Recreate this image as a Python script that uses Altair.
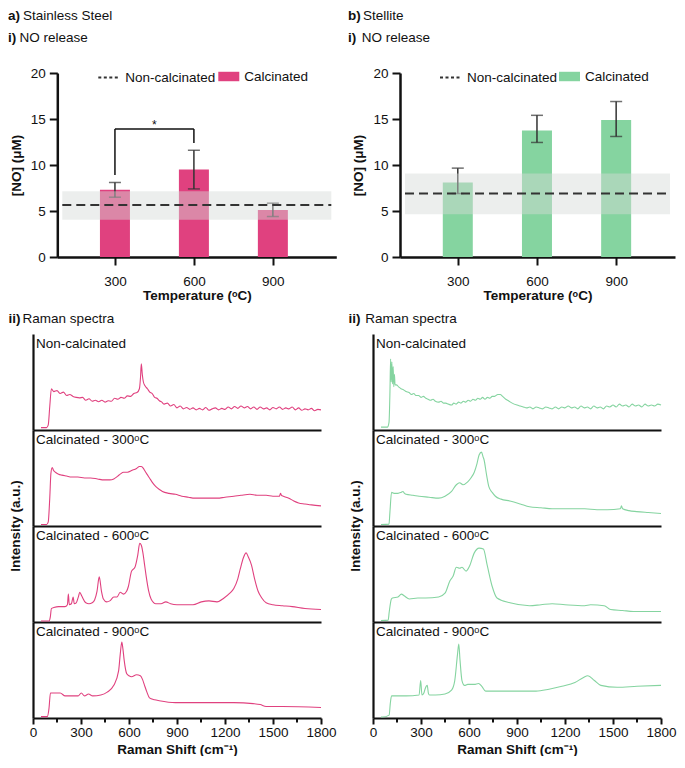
import altair as alt
import pandas as pd

FONT = "Liberation Sans"
PINK = "#E0417F"
GREEN = "#85D4A0"
FS = 13.5

# ---------------- NO release data ----------------
temps = [300, 600, 900]
ss_mean = [7.3, 9.5, 5.1]
ss_lo = [6.5, 7.4, 4.4]
ss_hi = [8.1, 11.6, 5.85]
ss_ctrl = [5.65]
ss_ctrl_lo = [4.05]
ss_ctrl_hi = [7.15]

st_mean = [8.1, 13.75, 14.9]
st_lo = [6.9, 12.45, 13.1]
st_hi = [9.66, 15.4, 16.9]
st_ctrl = [6.9]
st_ctrl_lo = [4.66]
st_ctrl_hi = [9.07]

legend_bar = "Calcinated"
legend_line = "Non-calcinated"

# significance bracket (stainless steel, 300 vs 600)
sig_x = [300, 600]
sig_top = [13.9]
sig_leg_bottom = [8.9, 12.4]
sig_star_x = [450]
sig_star_y = [14.4]

# ---------------- Raman spectra data ----------------
ss_nc_x = [50, 85, 95, 105, 115, 130, 150, 170, 190, 210, 230, 250, 270, 290, 310, 330, 350, 370, 390,
           410, 430, 450, 470, 490, 510, 530, 550, 570, 590, 610, 630, 650, 665, 672, 677, 683, 690, 700,
           715, 730, 745, 760, 775, 790, 805, 820, 840, 860, 880, 900, 920, 940, 960, 980, 1000, 1020,
           1040, 1060, 1080, 1100, 1120, 1140, 1160, 1180, 1200, 1220, 1240, 1260, 1280, 1300, 1320,
           1340, 1360, 1380, 1400, 1420, 1440, 1460, 1480, 1500, 1520, 1540, 1560, 1580, 1600, 1620,
           1640, 1660, 1680, 1700, 1720, 1740, 1760, 1780, 1800]
ss_nc_y = [2.5, 2.5, 5, 25, 43, 40, 41, 38, 39.5, 36, 37, 35, 34, 33.5, 34, 31, 32.5, 30, 31,
           29.5, 31, 29, 30.5, 30, 33, 32, 34, 33, 35.5, 35, 38, 39, 43, 55, 69, 58, 50, 46,
           43, 39.5, 38, 34, 33, 30.5, 29, 27, 28, 25, 26.5, 23, 25, 22, 23.5, 21.5, 23, 21,
           22.5, 21, 23.5, 20.5, 22, 23, 21, 22.5, 21.5, 24, 22, 24.5, 22.5, 25, 23,
           24.5, 22, 24, 21.5, 24, 22, 23, 21, 23.5, 22, 24, 21.5, 23, 22, 24,
           21, 23, 20.5, 22, 21, 22.5, 20, 21.5, 21]

ss_300_x = [50, 85, 95, 105, 112, 120, 128, 140, 160, 180, 210, 241, 280, 322, 360, 403, 444, 480, 505,
            530, 545, 566, 590, 620, 647, 665, 677, 690, 697, 712, 728, 748, 768, 790, 809, 850, 890,
            930, 971, 1010, 1052, 1100, 1153, 1200, 1255, 1300, 1356, 1400, 1457, 1500, 1540, 1547,
            1553, 1565, 1599, 1630, 1660, 1700, 1741, 1800]
ss_300_y = [1.5, 1.5, 4, 30, 55, 61, 58, 56, 54, 53, 52, 51, 51, 50, 50, 49, 48, 48, 49,
            52, 54, 56, 56, 58, 60, 62, 62, 60, 58, 54, 50, 45, 41, 38, 36, 34, 33,
            31, 30, 29, 29, 29, 29, 30, 31, 32, 33, 32, 32, 31, 31, 34,
            32, 31, 29, 26, 24, 23, 22, 21]

ss_600_x = [50, 100, 108, 115, 130, 160, 200, 215, 221, 227, 240, 251, 258, 270, 285, 292, 305, 330,
            350, 370, 385, 400, 414, 428, 440, 460, 480, 505, 525, 545, 565, 585, 596, 616, 637, 655,
            667, 677, 687, 697, 707, 722, 738, 768, 800, 830, 860, 900, 960, 1000, 1052, 1100, 1150,
            1194, 1230, 1255, 1280, 1295, 1315, 1332, 1345, 1366, 1385, 1407, 1430, 1457, 1500, 1560,
            1620, 1700, 1800]
ss_600_y = [1, 1, 5, 14, 15, 16, 16, 18, 29, 18, 19, 26, 19, 20, 27, 31, 27, 20,
            19, 20, 23, 32, 47, 32, 24, 21, 22, 26, 26, 31, 29, 32, 37, 53, 57, 70,
            82, 80, 72, 60, 48, 33, 24, 19, 19, 21, 19, 18, 18, 18, 21, 22, 21,
            25, 30, 35, 45, 55, 67, 72, 68, 59, 45, 32, 25, 20, 18, 17,
            16, 14, 13]

ss_900_x = [50, 89, 100, 109, 140, 170, 201, 250, 282, 302, 322, 347, 373, 424, 464, 505, 535, 545,
            555, 562, 570, 586, 600, 616, 647, 671, 685, 697, 712, 728, 760, 789, 890, 1052, 1255,
            1376, 1420, 1457, 1559, 1800]
ss_900_y = [1.4, 1.4, 10, 26, 26, 26, 23, 23, 23, 26, 23, 25, 23, 24, 27, 34, 49, 66,
            79, 72, 60, 46, 44, 43, 45, 44, 40, 34, 27, 21, 19, 18, 16, 16, 16,
            15, 14, 12, 12, 11]

st_nc_x = [50, 90, 100, 106, 110, 114, 118, 122, 126, 130, 134, 138, 146, 160, 175, 190, 207, 225, 240,
           255, 268, 285, 300, 315, 330, 345, 360, 375, 390, 410, 425, 440, 455, 470, 491, 505, 520,
           535, 550, 565, 580, 595, 610, 625, 640, 655, 670, 685, 700, 715, 730, 745, 760, 780, 795,
           810, 830, 850, 870, 900, 920, 940, 960, 980, 1000, 1020, 1040, 1060, 1080, 1100, 1120,
           1140, 1160, 1180, 1200, 1220, 1240, 1260, 1280, 1300, 1320, 1340, 1360, 1380, 1400, 1420,
           1440, 1460, 1480, 1500, 1520, 1540, 1560, 1580, 1600, 1620, 1640, 1660, 1680, 1700, 1720,
           1740, 1760, 1780, 1800]
st_nc_y = [3, 3, 8, 40, 74, 50, 71, 48, 66, 45, 58, 47, 47, 45, 43, 42, 40, 39, 37,
           38, 36, 36, 34, 35, 33, 32, 31, 32, 30, 29, 30, 28, 28, 27, 26, 28, 27,
           29, 28, 30, 29, 31, 30, 32, 31, 33, 32, 34, 32, 34, 33, 35, 35, 37, 37,
           35, 32, 30, 28, 26, 25, 24, 23, 24, 22, 24, 23, 22, 24, 23, 22,
           24, 22, 24, 23, 25, 23, 24, 22, 25, 23, 24, 22, 25, 23, 24,
           22, 25, 24, 26, 24, 27, 25, 26, 24, 27, 25, 26, 24, 27, 25,
           26, 25, 27, 26]

st_300_x = [50, 100, 106, 116, 136, 156, 175, 187, 197, 207, 250, 288, 350, 410, 450, 491, 521, 542,
            562, 592, 612, 633, 650, 663, 678, 688, 694, 710, 724, 745, 765, 800, 856, 920, 978, 1050,
            1120, 1200, 1323, 1400, 1465, 1546, 1553, 1560, 1600, 1648, 1720, 1800]
st_300_y = [1.5, 2, 15, 35, 34, 34, 35, 36, 34, 33, 32, 31, 30, 29, 31, 36, 43, 45,
            43, 46, 50, 56, 65, 74, 77, 72, 69, 53, 41, 35, 31, 28, 26, 23, 20, 19,
            18, 18, 18, 17, 17, 18, 21, 18, 16, 15, 14, 13]

st_600_x = [50, 95, 101, 115, 122, 156, 177, 197, 227, 280, 329, 410, 450, 481, 501, 521, 542, 556,
            582, 603, 633, 663, 690, 714, 745, 775, 856, 978, 1050, 1120, 1200, 1323, 1360, 1445,
            1485, 1560, 1627, 1800]
st_600_y = [1.5, 2, 10, 24, 25, 26, 29, 27, 24, 25, 25, 26, 30, 43, 48, 57, 56, 57,
            53, 58, 72, 77, 76, 59, 37, 25, 20, 17, 18, 19, 18, 17, 18, 17,
            13, 12, 11, 11]

st_900_x = [50, 60, 101, 108, 116, 207, 288, 298, 306, 318, 325, 339, 346, 353, 390, 450, 491, 511,
            528, 536, 544, 556, 572, 592, 633, 660, 680, 704, 816, 1019, 1100, 1181, 1262, 1313, 1343,
            1384, 1424, 1526, 1650, 1800]
st_900_y = [1, 1, 3, 15, 23, 23, 24, 39, 24, 26, 30, 34, 26, 24, 24, 25, 29, 39,
            66, 77, 60, 39, 34, 35, 35, 36, 33, 28, 28, 28, 30, 33, 37, 42, 44,
            39, 34, 32, 33, 34]

spec_labels = ["Non-calcinated", "Calcinated - 300ᵒC", "Calcinated - 600ᵒC", "Calcinated - 900ᵒC"]
raman_major = [0, 300, 600, 900, 1200, 1500, 1800]
raman_minor = [150, 450, 750, 1050, 1350, 1650]
no_ticks = [0, 5, 10, 15, 20]

# ---------------- helpers ----------------
def text_layer(s, x, y, bold=False, angle=0, align="left"):
    df = pd.DataFrame({"t": [s]})
    kw = dict(align=align, baseline="middle", fontSize=FS, font=FONT, color="#111")
    if bold:
        kw["fontWeight"] = "bold"
    if angle:
        kw["angle"] = angle
    return alt.Chart(df).mark_text(**kw).encode(x=alt.value(x), y=alt.value(y), text="t:N")


def heading(prefix, rest, x, y, gap):
    return alt.layer(text_layer(prefix, x, y, bold=True), text_layer(rest, x + gap, y))


def leg(x, **kw):
    return alt.Legend(orient="none", legendX=x, legendY=-7, title=None, padding=0, labelOffset=5,
                      labelFontSize=FS, labelFont=FONT, labelColor="#111", **kw)


def bar_panel(mean, lo, hi, ctrl, clo, chi, color, W, H, xdom, head1, head2, legx, off=0, sig=False):
    df = pd.DataFrame({"T": temps, "mean": mean, "lo": lo, "hi": hi,
                       "lab": [legend_bar] * len(temps)})
    ctrl_df = pd.DataFrame({"c": ctrl, "clo": clo, "chi": chi, "lab": [legend_line],
                            "xa": [xdom[0]], "xb": [xdom[1]]})

    def X(f):
        return alt.X(f, type="quantitative",
                     scale=alt.Scale(domain=xdom, nice=False, zero=False, range=[off, off + W]),
                     axis=alt.Axis(values=temps, title="Temperature (ᵒC)", tickSize=8, tickWidth=2,
                                   domainWidth=2.5, labelPadding=9, titlePadding=1,
                                   labelFlush=False, format="d"))

    def Y(f):
        return alt.Y(f, type="quantitative",
                     scale=alt.Scale(domain=[0, 20], nice=False),
                     axis=alt.Axis(values=no_ticks, title="[NO] (μM)", tickSize=8, tickWidth=2,
                                   domainWidth=2.5, labelPadding=4, titlePadding=7, offset=-off))

    bars = alt.Chart(df).mark_bar(size=30).encode(
        x=X("T"), y=Y("mean"),
        color=alt.Color("lab:N", scale=alt.Scale(range=[color]),
                        legend=leg(legx[1] + off, symbolType="M-1,-0.45H1V0.45H-1Z", symbolSize=441,
                                   symbolStrokeWidth=0, symbolOpacity=1)))
    err = alt.Chart(df).mark_rule(color="#333", strokeWidth=1.5).encode(x=X("T"), y=Y("lo"), y2="hi")
    cap_lo = alt.Chart(df).mark_tick(color="#333", size=12, thickness=1.5, orient="horizontal").encode(
        x=X("T"), y=Y("lo"))
    cap_hi = alt.Chart(df).mark_tick(color="#333", size=12, thickness=1.5, orient="horizontal").encode(
        x=X("T"), y=Y("hi"))
    band = alt.Chart(ctrl_df).mark_rect(color="#D6DAD7", opacity=0.46).encode(
        x=X("xa"), x2="xb", y=Y("clo"), y2="chi")
    line = alt.Chart(ctrl_df).mark_rule(color="#333", strokeWidth=2, strokeDash=[9, 5]).encode(
        x=X("xa"), x2="xb", y=Y("c"))
    line_key = alt.Chart(ctrl_df).mark_rule(color="#333", strokeWidth=2, opacity=0).encode(
        x=X("xa"), x2="xb", y=Y("c"),
        strokeDash=alt.StrokeDash("lab:N", scale=alt.Scale(range=[[3, 2.5]]),
                                  legend=leg(legx[0] + off, symbolType="stroke", symbolSize=441,
                                             symbolStrokeWidth=1.8, symbolStrokeColor="#333",
                                             symbolOpacity=1)))
    layers = [bars, err, cap_lo, cap_hi, band, line, line_key]
    if sig:
        hdf = pd.DataFrame({"x1": [sig_x[0]], "x2": [sig_x[1]], "y": sig_top})
        vdf = pd.DataFrame({"x": sig_x, "y1": sig_leg_bottom, "y2": sig_top * 2})
        sdf = pd.DataFrame({"x": sig_star_x, "y": sig_star_y, "t": ["*"]})
        layers.append(alt.Chart(hdf).mark_rule(color="#111", strokeWidth=1.5).encode(
            x=X("x1"), x2="x2", y=Y("y")))
        layers.append(alt.Chart(vdf).mark_rule(color="#111", strokeWidth=1.5).encode(
            x=X("x"), y=Y("y1"), y2="y2"))
        layers.append(alt.Chart(sdf).mark_text(fontSize=12, font=FONT, color="#111",
                                               baseline="middle").encode(x=X("x"), y=Y("y"), text="t:N"))
    layers.append(heading(head1[0], head1[1], head1[2] + off, -57.5, head1[3]))
    layers.append(heading(head2[0], head2[1], head2[2] + off, -35.5, head2[3]))
    return alt.layer(*layers).properties(width=W + off, height=H)


def spec_panel(xs, ys, label, color, W, H, bottom=False, extra=None):
    df = pd.DataFrame({"shift": xs, "I": ys})
    ysc = alt.Y("I:Q", scale=alt.Scale(domain=[0, 100], nice=False),
                axis=alt.Axis(labels=False, ticks=False, title=None, domainWidth=2.2))
    xscale = alt.Scale(domain=[0, 1800], nice=False)
    if bottom:
        xax = alt.Axis(values=raman_major, title="Raman Shift (cm⁻¹)", tickSize=6, tickWidth=2,
                       domainWidth=2.2, labelPadding=1, titlePadding=4, labelFlush=False, format="d")
    else:
        xax = alt.Axis(labels=False, ticks=False, title=None, domainWidth=2.2)
    xenc = alt.X("shift:Q", scale=xscale, axis=xax)
    line = alt.Chart(df).mark_line(color=color, strokeWidth=1.1, interpolate="monotone").encode(
        x=xenc, y=ysc)
    layers = [line]
    if bottom:
        minor = alt.Chart(pd.DataFrame({"shift": raman_minor})).mark_tick(
            orient="vertical", size=3.5, thickness=2, color="#111", opacity=1).encode(
            x=xenc, y=alt.value(H + 2.8))
        layers.append(minor)
    layers.append(text_layer(label, 3, 10))
    if extra is not None:
        layers.extend(extra)
    return alt.layer(*layers).properties(width=W, height=H)


def spec_column(data, color, W, H, head_gap):
    panels = []
    for i, ((xs, ys), lab) in enumerate(zip(data, spec_labels)):
        extra = []
        if i == 0:
            extra.append(heading("ii)", "Raman spectra", -24.4, -15, head_gap))
        if i == 2:
            extra.append(text_layer("Intensity (a.u.)", -17, 0, bold=True, angle=270, align="center"))
        panels.append(spec_panel(xs, ys, lab, color, W, H, bottom=(i == 3), extra=extra))
    return alt.vconcat(*panels, spacing=0, bounds="flush")


BAR_H = 184
left_bar = bar_panel(ss_mean, ss_lo, ss_hi, ss_ctrl, ss_ctrl_lo, ss_ctrl_hi, PINK, 279, BAR_H,
                     [100, 1122], ("a)", "Stainless Steel", -49.3, 15), ("i)", "NO release", -49.3, 11.6),
                     (40, 161), off=24.3, sig=True)
right_bar = bar_panel(st_mean, st_lo, st_hi, st_ctrl, st_ctrl_lo, st_ctrl_hi, GREEN, 275, BAR_H,
                      [100, 1104], ("b)", "Stellite", -52, 15), ("i)", "NO release", -52, 13.7),
                      (39, 159))

top = alt.hconcat(left_bar, right_bar, spacing=11).resolve_scale(color="independent",
                                                                  strokeDash="independent")

SPEC_H = 96
left_spec = spec_column([(ss_nc_x, ss_nc_y), (ss_300_x, ss_300_y), (ss_600_x, ss_600_y),
                         (ss_900_x, ss_900_y)], PINK, 288, SPEC_H, 14)
right_spec = spec_column([(st_nc_x, st_nc_y), (st_300_x, st_300_y), (st_600_x, st_600_y),
                          (st_900_x, st_900_y)], GREEN, 288, SPEC_H, 16.7)
bottom = alt.hconcat(left_spec, right_spec, spacing=11)

chart = alt.vconcat(top, bottom, spacing=10).resolve_scale(
    color="independent", strokeDash="independent"
).properties(padding={"left": 0, "top": 0, "right": 0, "bottom": 0}).configure_view(
    stroke=None).configure_axis(
    grid=False, labelFont=FONT, titleFont=FONT, labelFontSize=FS, titleFontSize=FS,
    labelColor="#111", titleColor="#111", domainColor="#111", tickColor="#111",
    titleFontWeight="bold", labelFontWeight="normal"
).configure_text(font=FONT)

chart.save("out.html", embed_options={"renderer": "svg", "actions": False})
